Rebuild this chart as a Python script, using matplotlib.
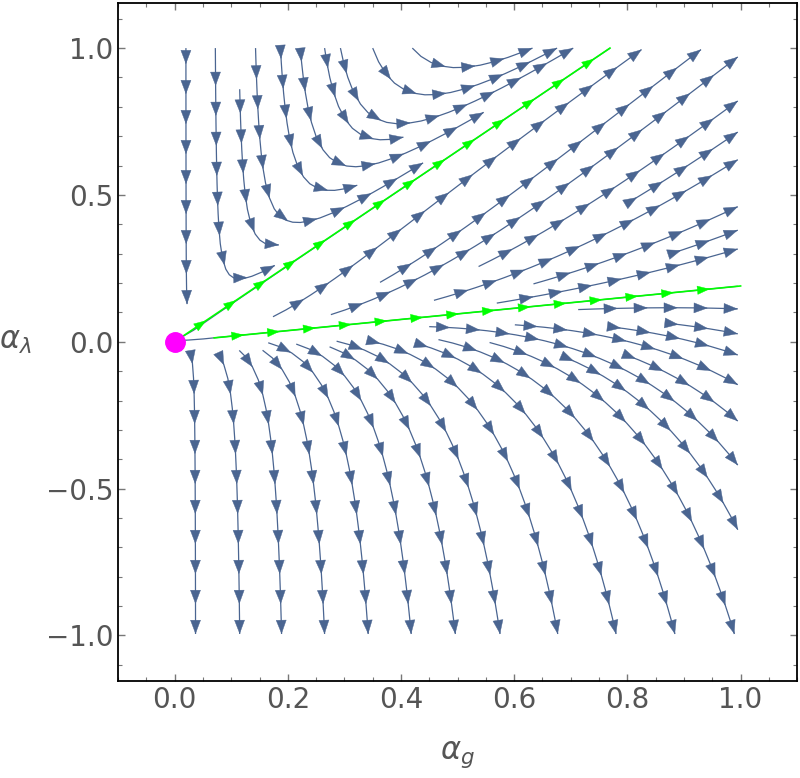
import numpy as np
import matplotlib.pyplot as plt
from matplotlib.patches import FancyArrowPatch, ArrowStyle
from matplotlib.ticker import MultipleLocator

# flow coefficients
# d(a_g)  = c_gg * g^2
# d(a_lam) = c_ll * lam^2 + c_lg * lam * g + c_g2 * g^2
c_gg = 0.51
c_ll = -1.0
c_lg = 2.0
c_g2 = -0.247

g_range = [0.0, 1.0]
lam_range = [-1.0, 1.0]
fixed_point = [0.0, 0.0]

# where the streamlines of the reference end (traced backwards from there)
end_bottom_g = [0.037, 0.115, 0.189, 0.265, 0.342, 0.418, 0.496, 0.575, 0.677, 0.78, 0.884, 0.989]
end_right_lam = [-0.64, -0.42, -0.27, -0.146, -0.045, 0.027, 0.112, 0.316, 0.38, 0.46,
                 0.62, 0.714, 0.82, 0.97]
end_top_g = [0.825, 0.93]
# where the streamlines of the upper-left corner start (traced forwards)
start_top_g = [0.02, 0.072, 0.143, 0.187, 0.222, 0.265, 0.293, 0.35, 0.42]
start_mid = [[0.115, 0.86]]

xticks = [0.0, 0.2, 0.4, 0.6, 0.8, 1.0]
yticks = [-1.0, -0.5, 0.0, 0.5, 1.0]

blue = '#4a6591'
green = '#00ff00'
tick_grey = '#555555'

fig = plt.figure(figsize=(8, 7.78), dpi=100)
ax = fig.add_axes([0.1475, 0.1247, 0.849, 0.872])
ax.set_xlim(-0.1, 1.1)
ax.set_ylim(-1.155, 1.155)

g = np.linspace(g_range[0], g_range[1], 101)
lam = np.linspace(lam_range[0], lam_range[1], 201)
G, L = np.meshgrid(g, lam)
U = c_gg * G**2
V = c_ll * L**2 + c_lg * L * G + c_g2 * G**2

# invariant rays through the fixed point
k_up, k_low = sorted(np.roots([c_ll, c_lg - c_gg, c_g2]), reverse=True)

edge = 0.995
seeds_back = [[edge, k_low * edge]]
seeds_back += [[x, -edge] for x in end_bottom_g]
seeds_back += [[edge, y] for y in end_right_lam]
seeds_back += [[x, edge] for x in end_top_g]

seeds_fwd = [[0.012, k_up * 0.012]]
seeds_fwd += [[x, lam_range[1]] for x in start_top_g]
seeds_fwd += start_mid

paths = []
for seeds, direction in [(seeds_back, 'backward'), (seeds_fwd, 'forward')]:
    seeds = np.array(seeds)
    sp = ax.streamplot(G, L, U, V, density=1.3, color=blue, linewidth=0.9,
                       arrowsize=0.01, minlength=0.02, start_points=seeds,
                       integration_direction=direction)
    segs = [np.asarray(p) for p in sp.lines.get_segments()]
    if direction == 'forward':
        # forward-only lines lose their seed point, put it back
        fixed = []
        for p in segs:
            d = np.hypot(*(seeds - p[0]).T)
            fixed.append(np.vstack([seeds[np.argmin(d)], p]) if d.min() < 0.12 else p)
        segs = fixed
        sp.lines.set_segments(segs)
    paths += segs
# drop matplotlib's single arrow per line, arrows are drawn below
for p in list(ax.patches):
    p.remove()


def on_ray(path):
    for k in (k_up, k_low):
        if np.all(np.abs(path[:, 1] - k * path[:, 0]) < 0.01):
            return True
    return False


def add_arrows(path, spacing, color, hl=9.5, hw=3.6, first=None):
    disp = ax.transData.transform(path)
    seg = np.hypot(*np.diff(disp, axis=0).T)
    s = np.concatenate([[0], np.cumsum(seg)])
    total = s[-1]
    if total < 12:
        return
    if first is None:
        marks = np.arange(total, spacing * 0.35, -spacing)
    else:
        marks = np.arange(first, total, spacing)
    hl_px = hl * fig.dpi / 72.0
    inv = ax.transData.inverted()
    for m in marks:
        m0 = max(m - hl_px, 0)
        tip = [np.interp(m, s, disp[:, 0]), np.interp(m, s, disp[:, 1])]
        tail = [np.interp(m0, s, disp[:, 0]), np.interp(m0, s, disp[:, 1])]
        tip, tail = inv.transform([tip, tail])
        ax.add_patch(FancyArrowPatch(tail, tip,
                                     arrowstyle=ArrowStyle('-|>', head_length=hl, head_width=hw),
                                     color=color, lw=0.3, shrinkA=0, shrinkB=0, zorder=3))


for path in paths:
    if not on_ray(path):
        add_arrows(path, 30, blue)

green_starts = [0.012, 0.07]
for k, g0 in zip([k_up, k_low], green_starts):
    g1 = min(g_range[1], lam_range[1] / k)
    gg = np.linspace(g0, g1, 50)
    ray = np.column_stack([gg, k * gg])
    ax.plot(ray[:, 0], ray[:, 1], color=green, lw=1.2, zorder=4)
    add_arrows(ray, 36, green, hl=8.5, hw=3.0, first=30)

ax.plot(*fixed_point, 'o', color='#ff00ff', ms=14, zorder=5)

ax.set_xticks(xticks)
ax.set_yticks(yticks)
ax.xaxis.set_minor_locator(MultipleLocator(0.05))
ax.yaxis.set_minor_locator(MultipleLocator(0.1))
ax.tick_params(which='both', direction='in', top=True, right=True,
               colors='#777777', labelcolor=tick_grey, labelsize=20)
ax.tick_params(which='major', length=5, width=1)
ax.tick_params(which='minor', length=3, width=0.8)
for t in ax.get_xticklabels() + ax.get_yticklabels():
    t.set_family('Liberation Sans Narrow')
ax.xaxis.set_major_formatter(plt.FuncFormatter(lambda v, p: '%.1f' % v))
ax.yaxis.set_major_formatter(plt.FuncFormatter(lambda v, p: ('%.1f' % v).replace('-', '\u2212')))
for sp_ in ax.spines.values():
    sp_.set_linewidth(1.3)

ax.set_xlabel(r'$\alpha_g$', fontsize=22, color=tick_grey, labelpad=18)
ax.set_ylabel(r'$\alpha_\lambda$', fontsize=22, color=tick_grey, rotation=0,
              va='center', labelpad=22)

fig.savefig('out.png', dpi=100)
